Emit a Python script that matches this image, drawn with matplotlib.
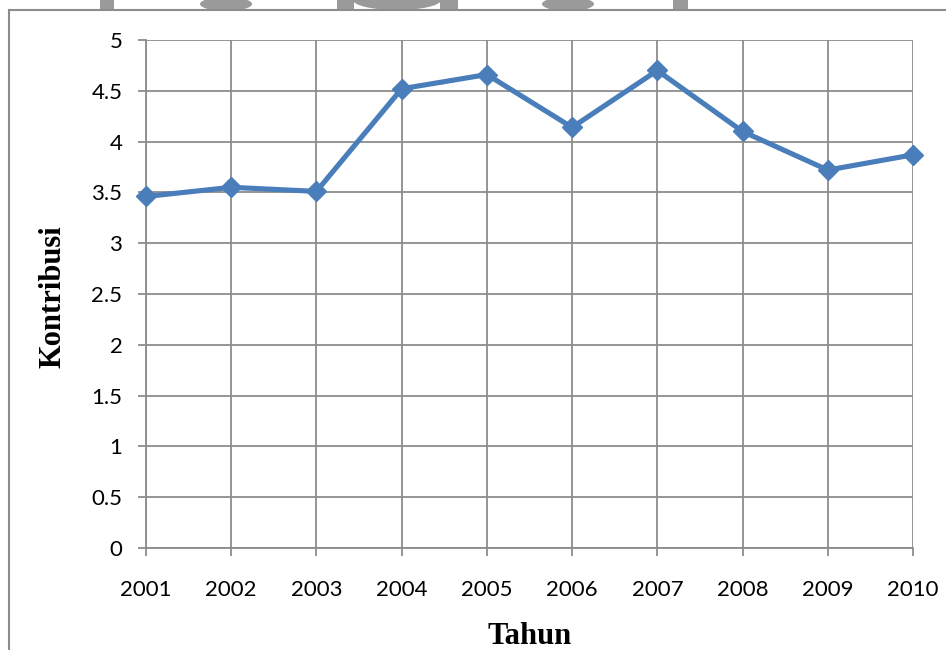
import matplotlib.pyplot as plt
from matplotlib.patches import Rectangle, Ellipse

# Data kontribusi per tahun
tahun = ['2001', '2002', '2003', '2004', '2005', '2006', '2007', '2008', '2009', '2010']
kontribusi = [3.46, 3.55, 3.51, 4.52, 4.66, 4.14, 4.70, 4.10, 3.72, 3.87]
y_ticks = [0, 0.5, 1, 1.5, 2, 2.5, 3, 3.5, 4, 4.5, 5]

W, H = 946, 650
fig = plt.figure(figsize=(W / 100, H / 100), dpi=100)
ax = fig.add_axes([146 / W, 1 - 548 / H, (913 - 146) / W, (548 - 40) / H])

grid_color = '#8c8c8c'
x = list(range(len(tahun)))
ax.plot(x, kontribusi, color='#4a7ebb', linewidth=3.7, marker='D',
        markersize=10.5, markeredgecolor='#4a7ebb', zorder=3, clip_on=False)

ax.set_xlim(0, len(tahun) - 1)
ax.set_ylim(0, 5)
ax.set_xticks(x)
ax.set_xticklabels(tahun)
ax.set_yticks(y_ticks)
ax.set_yticklabels([f'{v:g}' for v in y_ticks])

ax.grid(True, color=grid_color, linewidth=1.3)
ax.set_axisbelow(True)
for side in ['top', 'right']:
    ax.spines[side].set_visible(False)
for side in ['left', 'bottom']:
    ax.spines[side].set_color(grid_color)
    ax.spines[side].set_linewidth(1.3)
ax.tick_params(axis='both', colors=grid_color, length=6, width=1.3,
               labelcolor='black', labelsize=16)
ax.tick_params(axis='x', pad=17)
ax.tick_params(axis='y', pad=11)
for lbl in ax.get_xticklabels() + ax.get_yticklabels():
    lbl.set_fontfamily('Lato')

fig.text(530 / W, 1 - 636 / H, 'Tahun', ha='center', va='center',
         fontsize=22, fontweight='bold', family='Liberation Serif')
fig.text(53 / W, 1 - 297 / H, 'Kontribusi', ha='center', va='center',
         rotation=90, fontsize=22, fontweight='bold', family='Liberation Serif')

# bingkai luar
fig.add_artist(plt.Line2D([9 / W, 1], [1 - 10 / H, 1 - 10 / H],
                          transform=fig.transFigure, color='#8c8c8c', linewidth=1.5))
fig.add_artist(plt.Line2D([9 / W, 9 / W], [0, 1 - 10 / H],
                          transform=fig.transFigure, color='#8c8c8c', linewidth=1.5))

# potongan logo di atas bingkai
blob = '#9a9a9a'
for x0, x1 in [(100, 114), (337, 354), (440, 458), (673, 688)]:
    fig.add_artist(Rectangle((x0 / W, 1 - 10 / H), (x1 - x0) / W, 10 / H,
                             transform=fig.transFigure, color=blob, lw=0))
for cx, cy, w, h in [(226, 4, 52, 14), (397, 0, 88, 20), (568, 4, 52, 14)]:
    fig.add_artist(Ellipse((cx / W, 1 - cy / H), w / W, h / H,
                           transform=fig.transFigure, color=blob, lw=0))

fig.savefig('out.png', dpi=100)
